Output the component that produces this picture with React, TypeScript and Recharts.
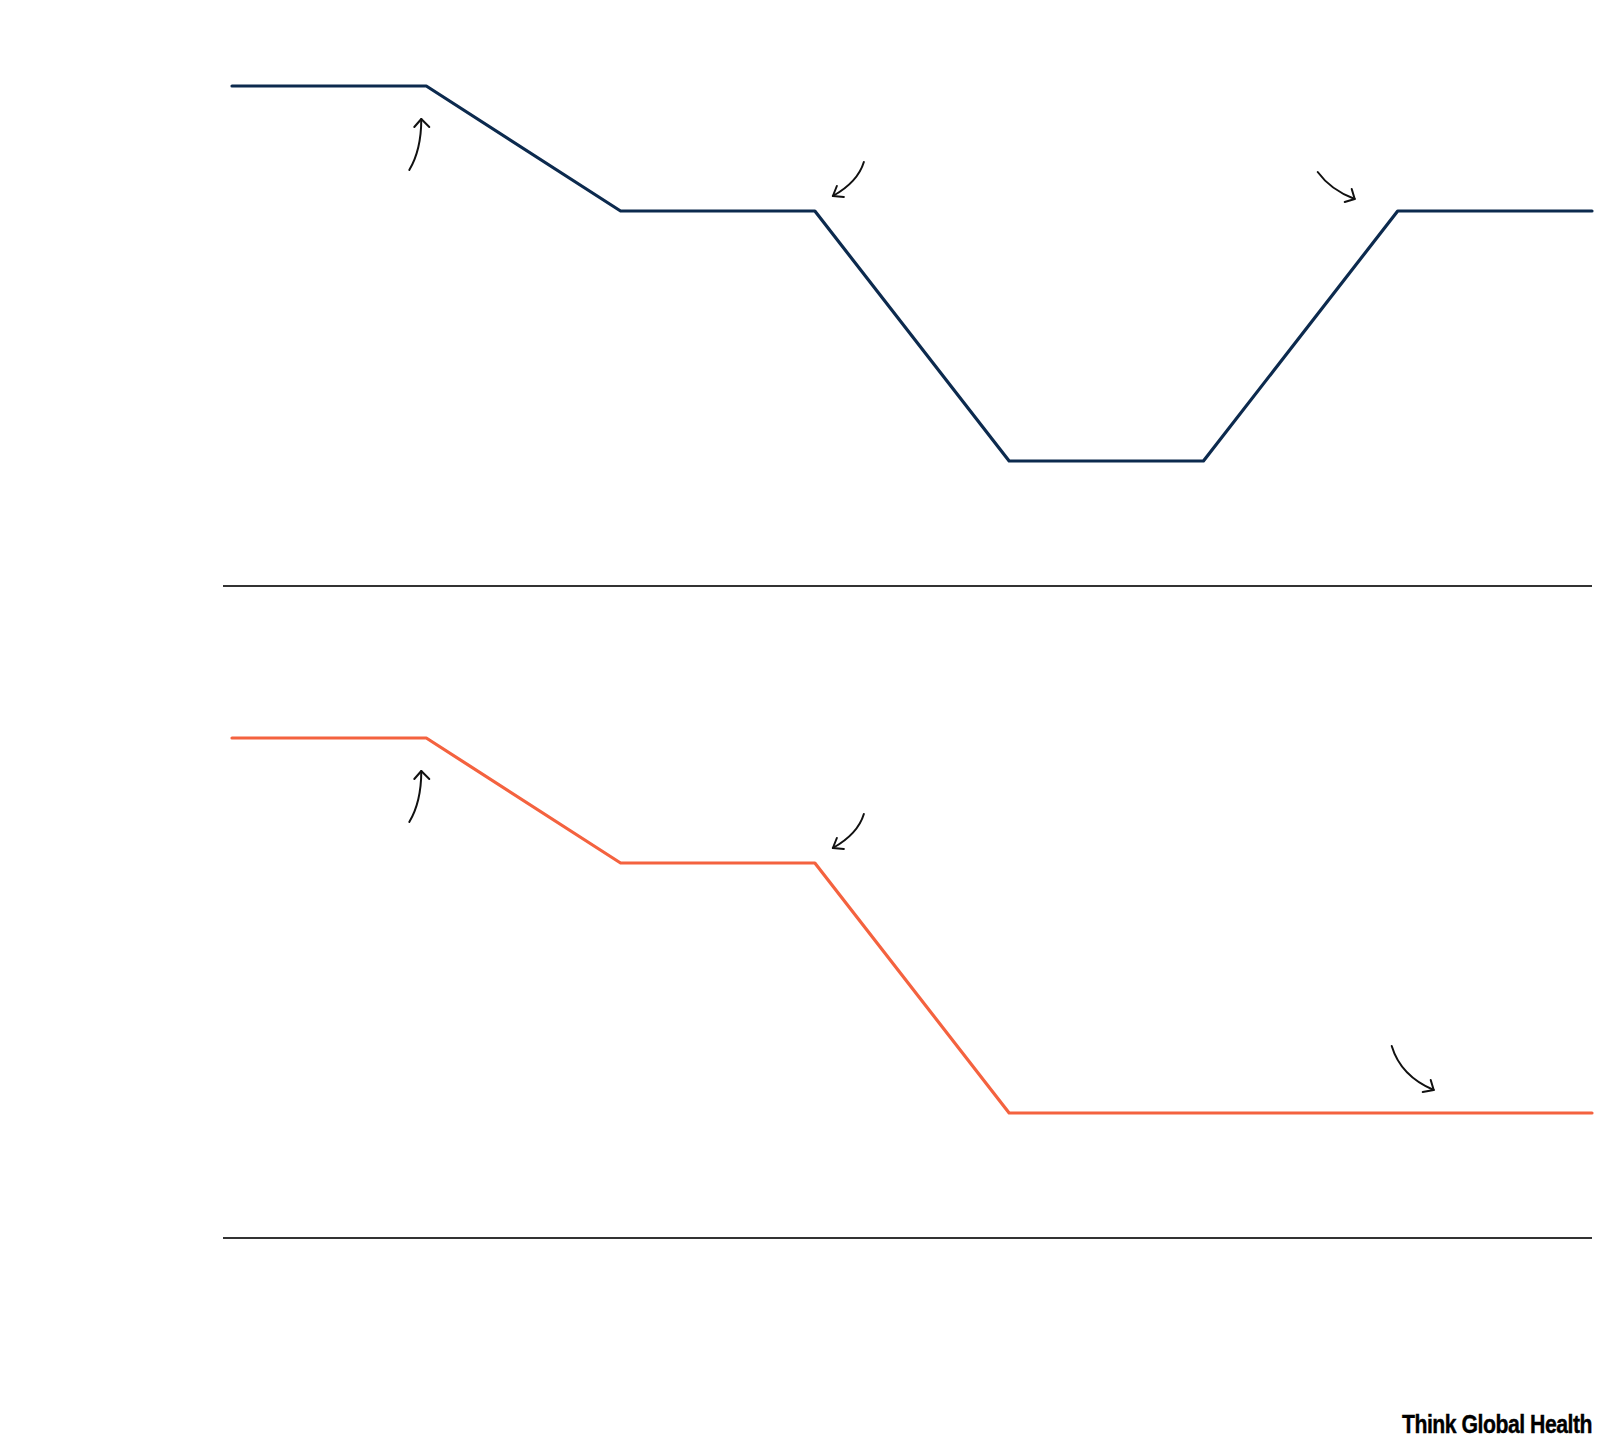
import React from "react";
import { LineChart, Line, XAxis, YAxis, ReferenceDot, ReferenceLine } from "recharts";

// step positions along the x axis and the two scenario series
const steps = [0, 1, 2, 3, 4, 5, 6, 7];
const topValues = [4, 4, 3, 3, 1, 1, 3, 3];
const bottomValues = [4, 4, 3, 3, 1, 1, 1, 1];

const topData = steps.map((s, i) => ({ step: s, value: topValues[i] }));
const bottomData = steps.map((s, i) => ({ step: s, value: bottomValues[i] }));

// arrow anchors (data coordinates) for each panel
type Anchor = { step: number; value: number; arrow: string };
const topAnchors: Anchor[] = [
  { step: 1, value: 4, arrow: "up" },
  { step: 3, value: 3, arrow: "downLeft" },
  { step: 6, value: 3, arrow: "downRight" },
];
const bottomAnchors: Anchor[] = [
  { step: 1, value: 4, arrow: "up" },
  { step: 3, value: 3, arrow: "downLeft" },
  { step: 6, value: 1, arrow: "longRight" },
];

// hand-drawn arrow shapes, offsets relative to the anchor point
const arrowShapes: Record<string, { tail: number[]; ctrl: number[]; tip: number[]; a: number[]; b: number[] }> = {
  up: { tail: [-17, 84], ctrl: [-5, 64], tip: [-5, 33], a: [-12, 41], b: [3, 41] },
  downLeft: { tail: [49, -49], ctrl: [43, -29], tip: [18, -15], a: [22, -25], b: [29, -14] },
  downRight: { tail: [-80, -39], ctrl: [-67, -21], tip: [-43, -12], a: [-53, -9], b: [-46, -22] },
  longRight: { tail: [-6, -67], ctrl: [3, -37], tip: [36, -23], a: [25, -21], b: [33, -33] },
};

function arrowShape(kind: string) {
  return (props: any) => {
    const { cx, cy } = props;
    const s = arrowShapes[kind];
    const p = (v: number[]) => `${cx + v[0]},${cy + v[1]}`;
    return (
      <g fill="none" stroke="#111" strokeWidth={2} strokeLinecap="round" strokeLinejoin="round">
        <path d={`M${p(s.tail)} Q${p(s.ctrl)} ${p(s.tip)}`} />
        <path d={`M${p(s.a)} L${p(s.tip)} L${p(s.b)}`} />
      </g>
    );
  };
}

function Panel({ data, color, anchors, top }: { data: any[]; color: string; anchors: Anchor[]; top: number }) {
  return (
    <div style={{ position: "absolute", left: 0, top }}>
      <LineChart width={1600} height={600} data={data} margin={{ top: 86, right: 8, bottom: 14, left: 223 }}>
        <XAxis
          dataKey="step"
          type="number"
          domain={[0, 7]}
          padding={{ left: 9, right: 0 }}
          hide
        />
        <YAxis hide domain={[0, 4]} />
        <ReferenceLine y={0} stroke="#333" strokeWidth={1.8} />
        <Line
          type="linear"
          dataKey="value"
          stroke={color}
          strokeWidth={3.2}
          strokeLinecap="round"
          strokeLinejoin="round"
          dot={false}
          activeDot={false}
          isAnimationActive={false}
        />
        {anchors.map((a, i) => (
          <ReferenceDot key={i} x={a.step} y={a.value} ifOverflow="visible" shape={arrowShape(a.arrow)} />
        ))}
      </LineChart>
    </div>
  );
}

export default function App() {
  return (
    <div style={{ position: "absolute", left: 0, top: 0, width: 1600, height: 1450, background: "#fff" }}>
      <Panel data={topData} color="#0c2a4e" anchors={topAnchors} top={0} />
      <Panel data={bottomData} color="#f4623f" anchors={bottomAnchors} top={652} />
      <svg width={1600} height={1450} style={{ position: "absolute", left: 0, top: 0, pointerEvents: "none" }}>
        <text
          x={1402}
          y={1433}
          fontFamily="'Liberation Sans Narrow', 'Liberation Sans', Arial, sans-serif"
          fontWeight="bold"
          fontSize={26}
          letterSpacing={-0.6}
          fill="#000"
          stroke="#000"
          strokeWidth={0.4}
          textLength={190}
          lengthAdjust="spacingAndGlyphs"
        >
          Think Global Health
        </text>
      </svg>
    </div>
  );
}
